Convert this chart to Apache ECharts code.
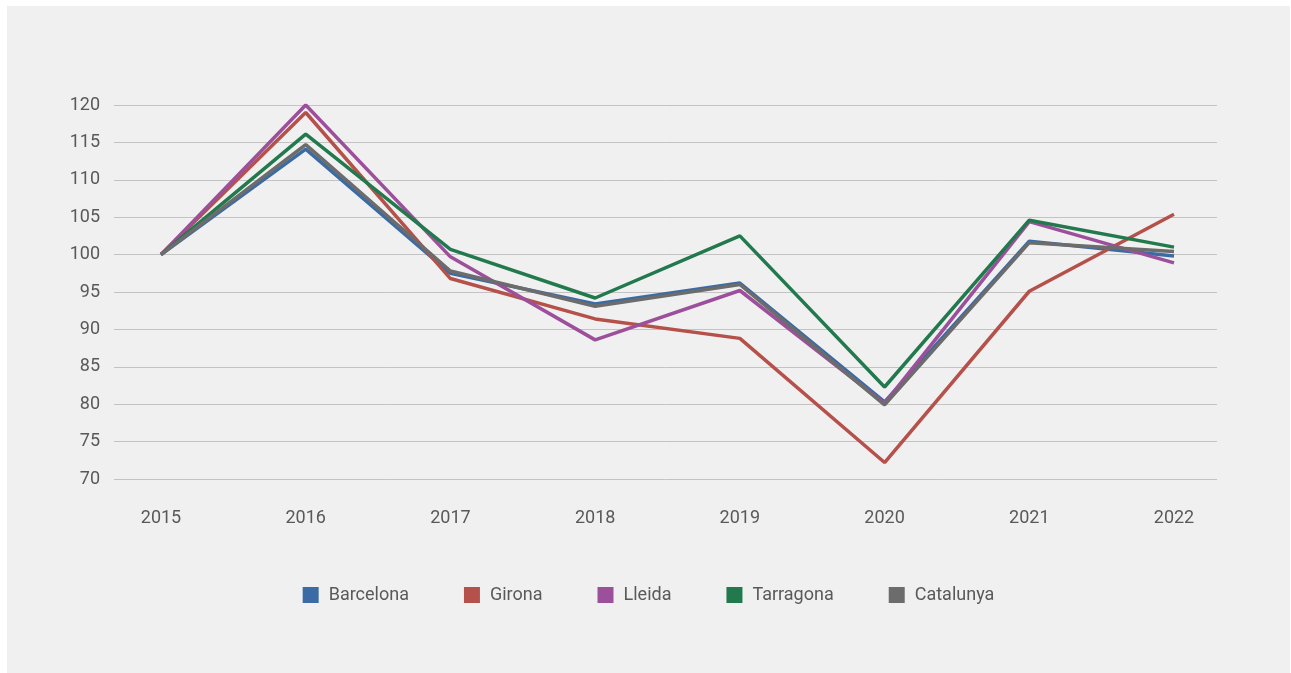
<!DOCTYPE html>
<html>
<head>
<meta charset="utf-8">
<script src="https://cdn.jsdelivr.net/npm/echarts@6/dist/echarts.min.js"></script>
<style>
  body { margin: 0; background: #fff; }
  #mainChart {
    position: absolute;
    left: 7px; top: 6px;
    width: 1283px; height: 667px;
    background: #f0f0f0;
  }
</style>
</head>
<body>
<div id="mainChart"></div>
<script>
var years = ['2015', '2016', '2017', '2018', '2019', '2020', '2021', '2022'];
var barcelona = [100, 114.1, 97.5, 93.4, 96.2, 80.3, 101.8, 99.8];
var girona    = [100, 119.0, 96.8, 91.4, 88.8, 72.2, 95.1, 105.4];
var lleida    = [100, 120.0, 99.7, 88.6, 95.2, 80.1, 104.4, 98.9];
var tarragona = [100, 116.1, 100.7, 94.2, 102.5, 82.3, 104.6, 101.0];
var catalunya = [100, 114.7, 97.8, 93.1, 96.0, 79.9, 101.6, 100.4];
var yTicks = [70, 75, 80, 85, 90, 95, 100, 105, 110, 115, 120];

var names = ['Barcelona', 'Girona', 'Lleida', 'Tarragona', 'Catalunya'];
var values = [barcelona, girona, lleida, tarragona, catalunya];
var colors = ['#3b6ba5', '#b5514a', '#9c4f9a', '#23794e', '#6c6c6c'];

var chart = echarts.init(document.getElementById('mainChart'));

var labelStyle = { color: '#595959', fontSize: 18, fontFamily: 'Roboto' };

var option = {
  backgroundColor: '#f0f0f0',
  animation: false,
  color: colors,
  legend: {
    data: names,
    left: 'center',
    top: 575,
    itemWidth: 16,
    itemHeight: 16,
    itemGap: 55,
    icon: 'rect',
    textStyle: { color: '#595959', fontSize: 18, fontFamily: 'Roboto', padding: [0, 0, 0, 5] }
  },
  grid: [
    // gridlines and y labels
    { left: 107, right: 73, top: 99, bottom: 194 },
    // the lines themselves
    { left: 154, right: 116, top: 99, bottom: 194 }
  ],
  xAxis: [
    {
      gridIndex: 0, type: 'category', data: years, show: false
    },
    {
      gridIndex: 1, type: 'category', data: years, boundaryGap: false,
      axisLine: { show: false }, axisTick: { show: false },
      axisLabel: Object.assign({ margin: 30 }, labelStyle)
    }
  ],
  yAxis: [
    {
      gridIndex: 0, type: 'value', min: yTicks[0], max: yTicks[yTicks.length - 1], interval: 5,
      axisLine: { show: false }, axisTick: { show: false },
      axisLabel: Object.assign({ margin: 14 }, labelStyle),
      splitLine: { lineStyle: { color: '#c3c3c3', width: 1 } }
    },
    {
      gridIndex: 1, type: 'value', min: yTicks[0], max: yTicks[yTicks.length - 1], interval: 5,
      show: false, splitLine: { show: false }
    }
  ],
  series: names.map(function (n, i) {
    return {
      name: n,
      type: 'line',
      xAxisIndex: 1,
      yAxisIndex: 1,
      data: values[i],
      symbol: 'none',
      lineStyle: { width: 3.5, color: colors[i] },
      itemStyle: { color: colors[i] }
    };
  })
};

chart.setOption(option);
</script>
</body>
</html>
